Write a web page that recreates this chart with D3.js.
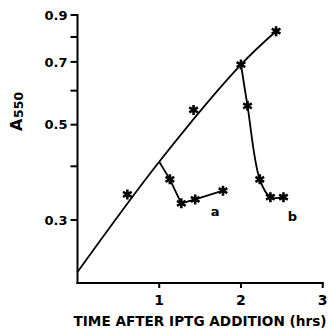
<!DOCTYPE html>
<html>
<head>
<meta charset="utf-8">
<script src="https://cdn.jsdelivr.net/npm/d3@7"></script>
<style>
  body { margin: 0; background: #fff; }
  svg text { font-family: "DejaVu Sans", sans-serif; font-weight: bold; fill: #000; }
</style>
</head>
<body>
<svg id="chart" width="328" height="331"></svg>
<script>
'use strict';

// growth curve (drawn line) and its measured points
var growthTimes = [0, 1, 2, 2.43];
var growthA550 = [0.227, 0.41, 0.69, 0.825];
var growthStarTimes = [0.61, 1.42, 2.0, 2.43];
var growthStarA550 = [0.344, 0.541, 0.69, 0.825];

// branch a: IPTG at 1 h
var branchATimes = [1.0, 1.13, 1.27, 1.44, 1.78];
var branchAA550 = [0.41, 0.373, 0.328, 0.335, 0.351];

// branch b: IPTG at 2 h
var branchBTimes = [2.0, 2.08, 2.23, 2.36, 2.52];
var branchBA550 = [0.69, 0.553, 0.373, 0.339, 0.339];

var xTicks = [1, 2, 3];
var yTicks = [0.3, 0.4, 0.5, 0.6, 0.7, 0.8, 0.9];
var yTickLabels = ['0.3', '', '0.5', '', '0.7', '', '0.9'];
var yAxisBottom = 0.214;

var svg = d3.select('#chart');

var x = d3.scaleLinear().domain([0, 3]).range([77.5, 322.7]);
var y = d3.scaleLog().domain([yAxisBottom, 0.9]).range([283, 15]);

var zip = function (xs, ys) {
    return xs.map(function (t, i) { return [t, ys[i]]; });
};

// axes as thin filled bars, positioned from the scales
var frame = svg.append('g').attr('fill', '#000');
frame.append('rect')
    .attr('x', x(0) - 1).attr('y', y(0.9) - 1)
    .attr('width', 2).attr('height', y(yAxisBottom) - y(0.9) + 2);
frame.append('rect')
    .attr('x', x(0) - 1).attr('y', y(yAxisBottom) - 1)
    .attr('width', x(3) - x(0) + 2).attr('height', 2);

frame.selectAll('rect.ytick').data(yTicks).enter().append('rect')
    .attr('class', 'ytick')
    .attr('x', x(0) - 7).attr('y', function (d) { return y(d) - 1; })
    .attr('width', 7).attr('height', 2);

frame.selectAll('rect.xtick').data(xTicks).enter().append('rect')
    .attr('class', 'xtick')
    .attr('x', function (d) { return x(d) - 1; }).attr('y', y(yAxisBottom))
    .attr('width', 2).attr('height', 5);

svg.selectAll('text.ylabel').data(yTicks).enter().append('text')
    .attr('class', 'ylabel')
    .attr('x', x(0) - 10).attr('y', function (d) { return y(d) + 4.7; })
    .attr('text-anchor', 'end').attr('font-size', 13)
    .text(function (d, i) { return yTickLabels[i]; });

svg.selectAll('text.xlabel').data(xTicks).enter().append('text')
    .attr('class', 'xlabel')
    .attr('x', function (d) { return x(d); }).attr('y', y(yAxisBottom) + 22)
    .attr('text-anchor', 'middle').attr('font-size', 14)
    .text(function (d) { return d; });

// lines
var line = d3.line()
    .x(function (d) { return x(d[0]); })
    .y(function (d) { return y(d[1]); });

svg.append('path')
    .attr('d', line.curve(d3.curveCatmullRom)(zip(growthTimes, growthA550)))
    .attr('fill', 'none').attr('stroke', '#000').attr('stroke-width', 1.8);

svg.append('path')
    .attr('d', line.curve(d3.curveLinear)(zip(branchATimes, branchAA550)))
    .attr('fill', 'none').attr('stroke', '#000').attr('stroke-width', 1.8);

svg.append('path')
    .attr('d', line.curve(d3.curveCatmullRom)(zip(branchBTimes, branchBA550)))
    .attr('fill', 'none').attr('stroke', '#000').attr('stroke-width', 1.8);

// asterisk markers
var stars = zip(growthStarTimes, growthStarA550)
    .concat(zip(branchATimes.slice(1), branchAA550.slice(1)))
    .concat(zip(branchBTimes.slice(1), branchBA550.slice(1)));

var star = d3.symbol().type(d3.symbolAsterisk).size(70);
svg.selectAll('path.star').data(stars).enter().append('path')
    .attr('class', 'star')
    .attr('d', star)
    .attr('fill', 'none').attr('stroke', '#000').attr('stroke-width', 2.6)
    .attr('transform', function (d) {
        return 'translate(' + x(d[0]) + ',' + y(d[1]) + ')';
    });

// branch labels
svg.append('text').attr('x', x(1.685)).attr('y', y(0.307)).attr('font-size', 13)
    .attr('text-anchor', 'middle').text('a');
svg.append('text').attr('x', x(2.63)).attr('y', y(0.298)).attr('font-size', 13)
    .attr('text-anchor', 'middle').text('b');

// axis titles
svg.append('text').attr('x', 200).attr('y', 326).attr('font-size', 14)
    .attr('text-anchor', 'middle').attr('textLength', 253).attr('lengthAdjust', 'spacingAndGlyphs')
    .text('TIME AFTER IPTG ADDITION (hrs)');

svg.append('text').attr('transform', 'translate(21.5,131) rotate(-90)')
    .attr('font-size', 16).text('A');
svg.append('text').attr('transform', 'translate(23,118) rotate(-90)')
    .attr('font-size', 12.5).text('550');
</script>
</body>
</html>
